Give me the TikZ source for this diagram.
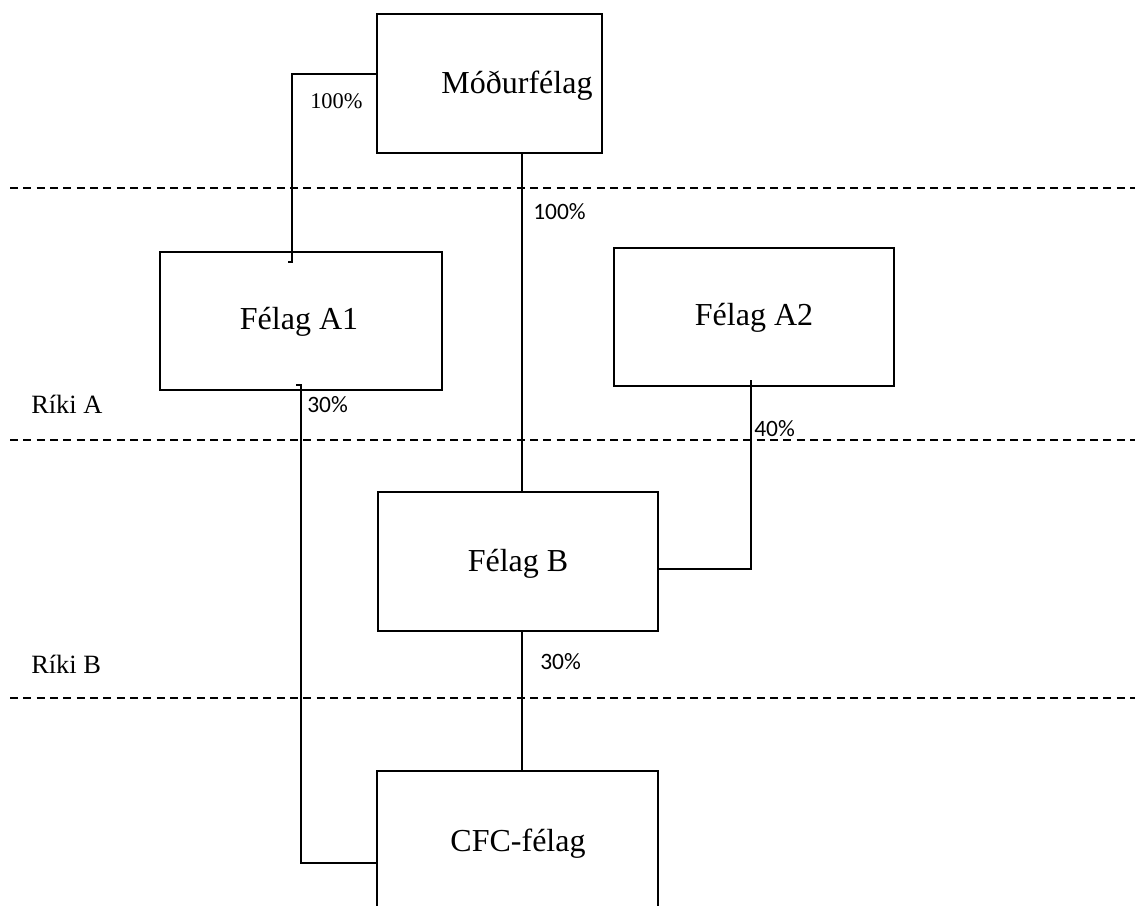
\documentclass[tikz,border=0pt]{standalone}
\usepackage{fontspec}
\setmainfont{Liberation Serif}
\newfontfamily\pctfont{Carlito}
\begin{document}
\begin{tikzpicture}[x=0.75pt,y=-0.75pt,
  box/.style={draw,line width=2pt},
  conn/.style={line width=0.9pt},
  sep/.style={line width=1.2pt,dash pattern=on 6pt off 4pt},
  titlefont/.style={font=\fontsize{24}{28}\selectfont},
  pct/.style={font=\pctfont\fontsize{17.6}{20}\selectfont,anchor=west,inner sep=0pt},
  pctserif/.style={font=\fontsize{16.8}{19}\selectfont,anchor=west,inner sep=0pt},
  riki/.style={font=\fontsize{19.8}{22}\selectfont,anchor=west,inner sep=0pt}]
\useasboundingbox (0,0) rectangle (1135,906);
% boxes
\draw[box] (377,14) rectangle (602,153);
\node[titlefont] (mod) at (517,86) {Móðurfélag};
\coordinate (modL) at (377,74);
\coordinate (modB) at (522,153);
\draw[box] (160,252) rectangle (442,390);
\node[titlefont] (a1) at (299,322) {Félag A1};
\draw[box] (614,248) rectangle (894,386);
\node[titlefont] (a2) at (754,318) {Félag A2};
\draw[box] (378,492) rectangle (658,631);
\node[titlefont] (b) at (518,564) {Félag B};
\draw[box] (377,771) rectangle (658,920);
\node[titlefont] (cfc) at (518,844) {CFC-félag};
% dashed separators
\coordinate (s1l) at (10,188); \coordinate (s1r) at (1135,188);
\coordinate (s2l) at (10,440); \coordinate (s2r) at (1135,440);
\coordinate (s3l) at (10,698); \coordinate (s3r) at (1135,698);
\draw[sep] (s1l) -- (s1r);
\draw[sep] (s2l) -- (s2r);
\draw[sep] (s3l) -- (s3r);
% connectors
\coordinate (a1T) at (292,262);
\draw[conn] (modL) -- (292,74) -- (a1T) -- (288,262);
\coordinate (bT) at (522,492);
\draw[conn] (modB) -- (bT);
\coordinate (a1B) at (301,385);
\coordinate (cfcL) at (377,863);
\draw[conn] (296,385) -- (a1B) -- (301,863) -- (cfcL);
\coordinate (a2B) at (751,380);
\coordinate (bR) at (658,569);
\draw[conn] (a2B) -- (751,569) -- (bR);
\coordinate (bB) at (522,631);
\coordinate (cfcT) at (522,771);
\draw[conn] (bB) -- (cfcT);
% labels
\node[pctserif] (l1) at (310,101) {100\%};
\node[pct] (l2) at (533,212) {100\%};
\node[pct] (l3) at (307,405) {30\%};
\node[pct] (l4) at (754,429) {40\%};
\node[pct] (l5) at (540,662) {30\%};
\node[riki] (ra) at (31,404) {Ríki A};
\node[riki] (rb) at (31,664) {Ríki B};
\end{tikzpicture}
\end{document}
